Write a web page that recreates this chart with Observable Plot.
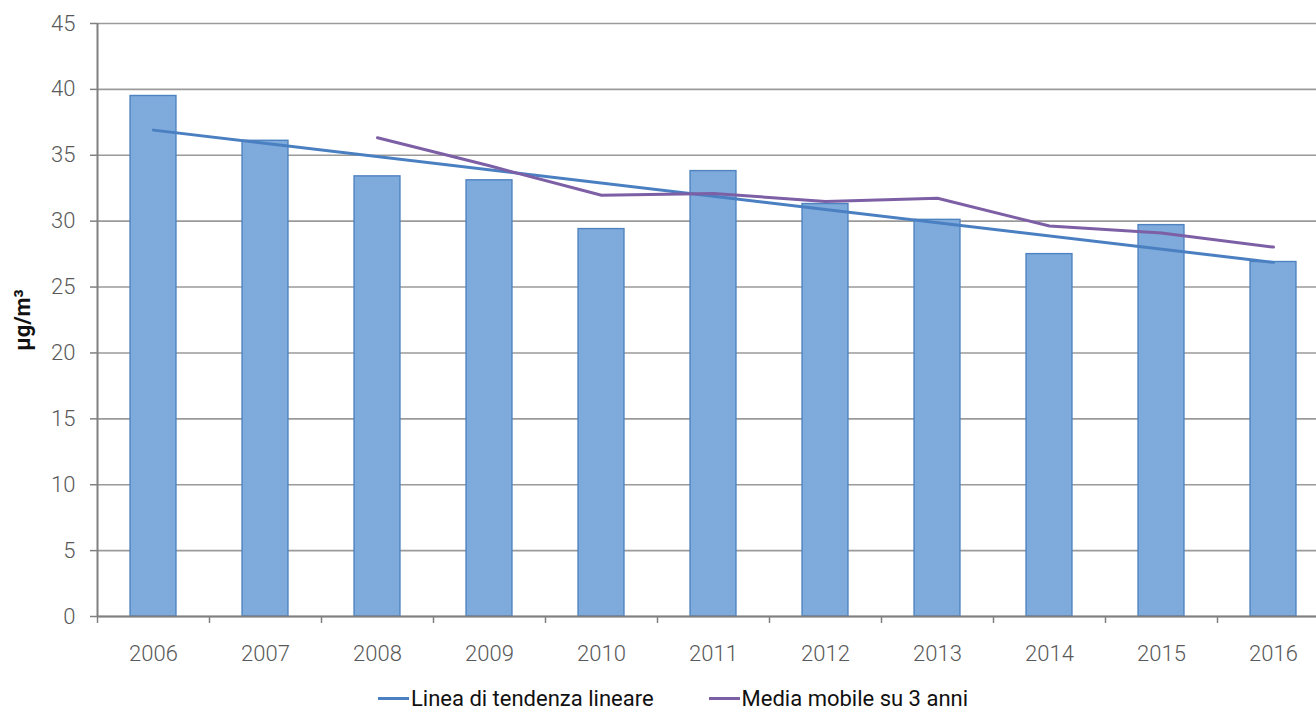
<!DOCTYPE html>
<html>
<head>
<meta charset="utf-8">
<script src="https://cdn.jsdelivr.net/npm/d3@7"></script>
<script src="https://cdn.jsdelivr.net/npm/@observablehq/plot@0.6"></script>
<style>
  body { margin: 0; background: #fff; font-family: Roboto, sans-serif; }
  #chart { position: relative; width: 1316px; overflow: hidden; }
  .legend { display: flex; justify-content: center; align-items: center; gap: 55px; height: 23px; padding-left: 30px; font-family: Roboto, sans-serif; font-size: 22px; line-height: 23px; color: #111; }
  .legend span.item { display: flex; align-items: center; }
  .legend i { display: inline-block; width: 31px; height: 3px; margin-right: 2px; }
</style>
</head>
<body>
<div id="chart"></div>
<script>
const years = [2006, 2007, 2008, 2009, 2010, 2011, 2012, 2013, 2014, 2015, 2016];
const values = [39.5, 36.1, 33.4, 33.1, 29.4, 33.8, 31.3, 30.1, 27.5, 29.7, 26.9];
const yTicks = [0, 5, 10, 15, 20, 25, 30, 35, 40, 45];
const seriesNames = ["Linea di tendenza lineare", "Media mobile su 3 anni"];
const seriesColors = ["#4a7fc1", "#7d5fa6"];
const yLabel = "µg/m³";

const data = years.map((year, i) => ({year, value: values[i]}));
const half = 0.205;
const boundaries = years.concat([years[years.length - 1] + 1]).map(y => y - 0.5);

const plot = Plot.plot({
  width: 1316,
  height: 687,
  marginTop: 23,
  marginBottom: 71,
  marginLeft: 97,
  marginRight: 0,
  style: {fontFamily: "Roboto, sans-serif", background: "#fff", overflow: "hidden"},
  x: {domain: [2005.5, 2016.5], range: [97, 1329]},
  y: {domain: [0, 45]},
  marks: [
    Plot.gridY(yTicks, {stroke: "#9a9a9a", strokeOpacity: 1, strokeWidth: 1.6}),
    Plot.rectY(data, {x1: d => d.year - half, x2: d => d.year + half, y: "value", fill: "#7eabdc", stroke: "#4f83c0", strokeWidth: 1.4}),
    Plot.ruleY([0], {stroke: "#808080", strokeWidth: 2}),
    Plot.ruleX([2005.5], {stroke: "#808080", strokeWidth: 2}),
    Plot.axisY(yTicks, {tickSize: 7, tickPadding: 15, stroke: "#808080", fill: "#595959", fontSize: 22, fontWeight: 300, label: null, strokeWidth: 1.5}),
    Plot.axisX(boundaries, {tickSize: 7, tickFormat: () => "", stroke: "#808080", label: null, strokeWidth: 1.5}),
    Plot.axisX(years, {tickSize: 0, tickPadding: 29, tickFormat: d => String(d), fill: "#595959", fontSize: 22, fontWeight: 300, label: null}),
    Plot.text([yLabel], {frameAnchor: "left", textAnchor: "middle", lineAnchor: "middle", dx: -75, dy: 0, rotate: -90, text: d => d, fontSize: 22, fontWeight: "bold", fill: "#111"}),
    Plot.linearRegressionY(data, {x: "year", y: "value", ci: 0, stroke: seriesColors[0], strokeWidth: 3}),
    Plot.line(data, Plot.windowY({k: 3, anchor: "end", reduce: "mean", strict: true}, {x: "year", y: "value", stroke: seriesColors[1], strokeWidth: 3}))
  ]
});
document.getElementById("chart").appendChild(plot);

const legend = document.createElement("div");
legend.className = "legend";
seriesNames.forEach((name, i) => {
  const item = document.createElement("span");
  item.className = "item";
  const sw = document.createElement("i");
  sw.style.background = seriesColors[i];
  item.appendChild(sw);
  item.appendChild(document.createTextNode(name));
  legend.appendChild(item);
});
document.getElementById("chart").appendChild(legend);
</script>
</body>
</html>
